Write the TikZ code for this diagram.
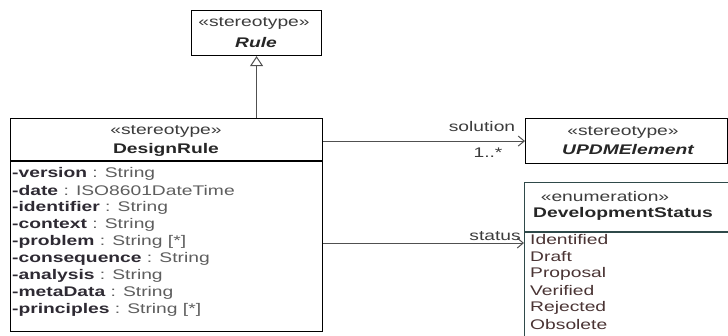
\documentclass[tikz,border=0pt]{standalone}
\usepackage{fontspec}
\setmainfont{Liberation Sans}[FakeStretch=1.38]
\usetikzlibrary{arrows.meta}
\definecolor{nmcol}{HTML}{2E2A33}
\definecolor{tycol}{HTML}{5E5E5E}
\definecolor{litcol}{HTML}{4A3434}
\definecolor{stcol}{HTML}{3C3C3C}
\definecolor{lncol}{HTML}{505050}
\definecolor{enumcol}{HTML}{2F4A4A}
\newcommand{\nm}[1]{\textcolor{nmcol}{\bfseries #1}}
\newcommand{\ty}[1]{\textcolor{tycol}{#1}}
\begin{document}
\begin{tikzpicture}[x=1bp,y=-1bp,
  box/.style={draw=black, line width=1.1bp, inner sep=0, anchor=north west, fill=white},
  enumbox/.style={box, draw=enumcol},
  txt/.style={inner sep=0, font=\fontsize{14}{16}\selectfont},
  stereo/.style={txt, text=stcol},
  cname/.style={txt, font=\fontsize{14}{16}\selectfont\bfseries, text=black!85},
  aname/.style={txt, font=\fontsize{14}{16}\selectfont\bfseries\itshape, text=black!85},
  attr/.style={txt, anchor=west},
  lit/.style={txt, anchor=west, text=litcol},
  lbl/.style={txt, text=stcol},
  sepline/.style={draw=black, line width=1.1bp},
  conn/.style={draw=lncol, line width=1bp},
  assoc/.style={conn, -{Straight Barb[length=6bp,width=10bp]}},
  gen/.style={conn, -{Triangle[open,length=10bp,width=13bp,line width=1bp]}}
]
\useasboundingbox (0,0) rectangle (728,335);
\clip (0,0) rectangle (728,335);

% Rule
\node[box, minimum width=130bp, minimum height=45bp] (rule) at (191,10) {};
\node[stereo] (rulest) at (254,23) {«stereotype»};
\node[aname] (rulenm) at (256,43) {Rule};

% DesignRule
\node[box, minimum width=312bp, minimum height=213bp] (dr) at (10,118) {};
\node[stereo] (drst) at (166,131) {«stereotype»};
\node[cname] (drnm) at (166,150) {DesignRule};
\draw[sepline] (10,161) -- (322,161);
\node[attr] (a1) at (12,174) {\nm{-version} \ty{: String}};
\node[attr] (a2) at (12,191) {\nm{-date} \ty{: ISO8601DateTime}};
\node[attr] (a3) at (12,208) {\nm{-identifier} \ty{: String}};
\node[attr] (a4) at (12,225) {\nm{-context} \ty{: String}};
\node[attr] (a5) at (12,242) {\nm{-problem} \ty{: String [*]}};
\node[attr] (a6) at (12,259) {\nm{-consequence} \ty{: String}};
\node[attr] (a7) at (12,276) {\nm{-analysis} \ty{: String}};
\node[attr] (a8) at (12,293) {\nm{-metaData} \ty{: String}};
\node[attr] (a9) at (12,310) {\nm{-principles} \ty{: String [*]}};

% UPDMElement
\node[box, minimum width=202bp, minimum height=45bp] (upd) at (525,118) {};
\node[stereo] (updst) at (623,132) {«stereotype»};
\node[aname] (updnm) at (628,150) {UPDMElement};

% DevelopmentStatus
\node[enumbox, minimum width=230bp, minimum height=200bp] (dev) at (524,182) {};
\node[stereo] (devst) at (605,197) {«enumeration»};
\node[cname, anchor=west] (devnm) at (533,214) {DevelopmentStatus};
\draw[sepline, draw=enumcol] (524,232) -- (754,232);
\node[lit] (l1) at (530,240) {Identified};
\node[lit] (l2) at (530,257) {Draft};
\node[lit] (l3) at (530,274) {Proposal};
\node[lit] (l4) at (530,291) {Verified};
\node[lit] (l5) at (530,308) {Rejected};
\node[lit] (l6) at (530,325) {Obsolete};

% connectors
\draw[gen] (dr.north -| rule.south) -- (rule.south);
\draw[assoc] (dr.east |- upd.west) -- (upd.west);
\node[lbl] (sol) at (482,127) {solution};
\node[lbl] (mult) at (488,153) {1..*};
\coordinate (sty) at (0,243);
\draw[assoc] (dr.east |- sty) -- (dev.west |- sty);
\node[lbl, anchor=east] (stat) at (521,236) {status};
\end{tikzpicture}
\end{document}
